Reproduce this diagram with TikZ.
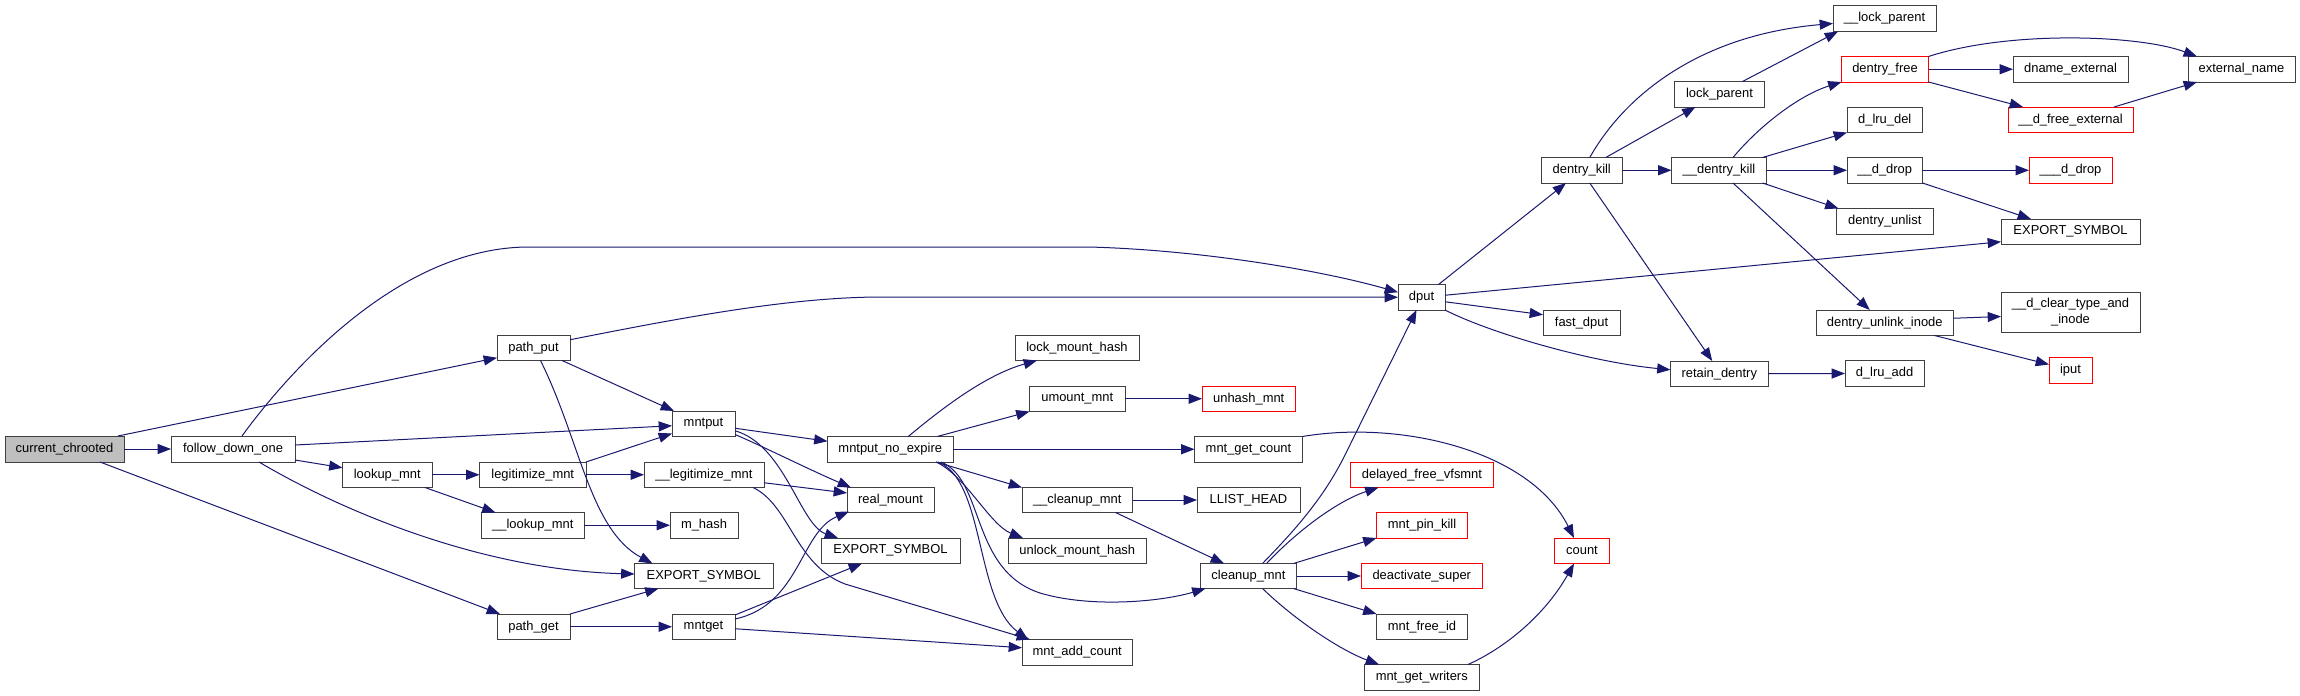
\documentclass[tikz,border=0pt]{standalone}
\usepackage{fontspec}
\setmainfont{Liberation Sans}
\usetikzlibrary{arrows.meta,calc}
\definecolor{edgec}{HTML}{191970}
\definecolor{bordc}{HTML}{404040}
\definecolor{rootc}{HTML}{BFBFBF}
\definecolor{redc}{HTML}{FF0000}
\newcommand\cgnode[7]{\node[fnbox,#1,minimum width={(#4-#2)*0.75pt},minimum height={(#5-#3)*0.75pt}] (#6) at ({(#2+#4)/2},{(#3+#5)/2}) {#7};}
\begin{document}
\begin{tikzpicture}[x=0.75pt,y=-0.75pt,
 fnbox/.style={draw=bordc,line width=0.75pt,inner sep=0pt,outer sep=0pt,font=\fontsize{9.7pt}{11.7pt}\selectfont,align=center,text=black},
 redbox/.style={draw=redc},
 rootbox/.style={fill=rootc},
 cedge/.style={draw=edgec,line width=0.75pt,-{Triangle[length=10pt,width=7.5pt]}}]
\fill[white] (0,0) rectangle (2300,696);
\useasboundingbox (0,0) rectangle (2300,696);
% nodes
\cgnode{rootbox}{5}{436}{124}{462}{cc}{current\_chrooted}
\cgnode{}{171}{436}{295}{462}{fdo}{follow\_down\_one}
\cgnode{}{342.5}{462}{432}{487.5}{lm}{lookup\_mnt}
\cgnode{}{479.5}{462}{586}{487.5}{legm}{legitimize\_mnt}
\cgnode{}{481.5}{512.5}{584}{538}{llm}{\_\_lookup\_mnt}
\cgnode{}{497}{614}{570}{639.5}{pget}{path\_get}
\cgnode{}{497}{335}{570}{360.5}{pput}{path\_put}
\cgnode{}{672}{411}{735}{436.5}{mntput}{mntput}
\cgnode{}{827.5}{436.5}{953}{462}{mne}{mntput\_no\_expire}
\cgnode{}{644}{462}{764}{487.5}{llegm}{\_\_legitimize\_mnt}
\cgnode{}{670}{512.5}{738}{538}{mhash}{m\_hash}
\cgnode{}{847}{487.5}{934}{512.5}{rm}{real\_mount}
\cgnode{}{821}{538}{960}{563.5}{es2}{EXPORT\_SYMBOL}
\cgnode{}{634.5}{563.5}{773}{588.5}{es1}{EXPORT\_SYMBOL}
\cgnode{}{672}{614}{735}{639.5}{mntget}{mntget}
\cgnode{}{1022}{639.5}{1132.5}{665}{mac}{mnt\_add\_count}
\cgnode{}{1015}{335}{1139}{360.5}{lmh}{lock\_mount\_hash}
\cgnode{}{1029.5}{386}{1125}{411.5}{um}{umount\_mnt}
\cgnode{}{1022}{487.5}{1132.5}{512.5}{cum}{\_\_cleanup\_mnt}
\cgnode{}{1008}{538}{1146.5}{563.5}{ulmh}{unlock\_mount\_hash}
\cgnode{redbox}{1202}{386}{1295.5}{411.5}{uhm}{unhash\_mnt}
\cgnode{}{1194.5}{436.5}{1302.5}{462}{mgc}{mnt\_get\_count}
\cgnode{}{1197}{487.5}{1300}{512.5}{llh}{LLIST\_HEAD}
\cgnode{}{1200.5}{563.5}{1296.5}{588.5}{clm}{cleanup\_mnt}
\cgnode{redbox}{1350.5}{462}{1493.5}{487.5}{dfv}{delayed\_free\_vfsmnt}
\cgnode{redbox}{1376.5}{512.5}{1467.5}{538}{mpk}{mnt\_pin\_kill}
\cgnode{redbox}{1361}{563.5}{1482.5}{588.5}{ds}{deactivate\_super}
\cgnode{}{1376.5}{614}{1467.5}{639.5}{mfi}{mnt\_free\_id}
\cgnode{}{1364.5}{664.5}{1479}{690}{mgw}{mnt\_get\_writers}
\cgnode{redbox}{1554.5}{538}{1609.5}{563.5}{cnt}{count}
\cgnode{}{1670.5}{361}{1768}{386.5}{rd}{retain\_dentry}
\cgnode{}{1398}{284.5}{1445}{310}{dput}{dput}
\cgnode{}{1543}{310}{1620}{335.5}{fdput}{fast\_dput}
\cgnode{}{1541}{157.5}{1622.5}{183}{dk}{dentry\_kill}
\cgnode{}{1674.5}{81.5}{1764.5}{107}{lp}{lock\_parent}
\cgnode{}{1671.5}{157.5}{1766.5}{183}{dkk}{\_\_dentry\_kill}
\cgnode{}{1833}{5.5}{1936}{31.5}{llp}{\_\_lock\_parent}
\cgnode{redbox}{1841.5}{56.5}{1928.5}{82}{dfree}{dentry\_free}
\cgnode{}{2013}{56.5}{2128}{82}{dne}{dname\_external}
\cgnode{}{2188}{56.5}{2295}{82}{en}{external\_name}
\cgnode{redbox}{2008}{107}{2133}{132.5}{dfe}{\_\_d\_free\_external}
\cgnode{}{1847}{107}{1922.5}{132.5}{dld}{d\_lru\_del}
\cgnode{}{1847}{157.5}{1922.5}{183}{ddrop}{\_\_d\_drop}
\cgnode{redbox}{2029}{157.5}{2112}{183}{dddrop}{\_\_\_d\_drop}
\cgnode{}{1836.5}{208.5}{1933}{234}{dul}{dentry\_unlist}
\cgnode{}{2001}{219}{2140}{244.5}{es3}{EXPORT\_SYMBOL}
\cgnode{}{1816}{310}{1953.5}{335.5}{dui}{dentry\_unlink\_inode}
\cgnode{}{2001}{292}{2140}{332}{dct}{\_\_d\_clear\_type\_and\\\_inode}
\cgnode{}{1845}{360.5}{1924}{386.5}{dla}{d\_lru\_add}
\cgnode{redbox}{2049}{357.5}{2092}{383.5}{iput}{iput}
% edges
\draw[cedge] (cc.east) -- (fdo.west);
\draw[cedge] ($(cc.north east)+(-6,0)$) -- ($(pput.west)+(0,10)$);
\draw[cedge] ($(cc.south east)+(-24,0)$) -- ($(pget.north west)+(3,0)$);
\draw[cedge] ($(fdo.north)+(9,0)$) .. controls (290,370) and (400,247) .. (529,247) -- (1089,247) .. controls (1200,250) and (1320,270) .. ($(dput.west)+(0,-5)$);
\draw[cedge] ($(fdo.east)+(0,-4)$) -- ($(mntput.west)+(0,2)$);
\draw[cedge] ($(fdo.south east)+(0,-2)$) -- ($(lm.west)+(0,-7)$);
\draw[cedge] ($(fdo.south)+(26,0)$) .. controls (340,510) and (480,570) .. ($(es1.west)+(0,-2)$);
\draw[cedge] (lm.east) -- (legm.west);
\draw[cedge] ($(lm.south east)+(-7,0)$) -- ($(llm.north west)+(14,0)$);
\draw[cedge] ($(pput.east)+(0,-8)$) .. controls (680,318) and (790,297) .. (882,297) -- (dput.west);
\draw[cedge] ($(pput.south east)+(-8,0)$) -- ($(mntput.north west)+(2,0)$);
\draw[cedge] ($(pput.south)+(7,0)$) .. controls (580,440) and (590,530) .. ($(es1.north west)+(18,0)$);
\draw[cedge] (legm.north east) -- ($(mntput.south west)+(0,-3)$);
\draw[cedge] (legm.east) -- (llegm.west);
\draw[cedge] (llm.east) -- (mhash.west);
\draw[cedge] (pget.north east) -- ($(es1.south west)+(24,0)$);
\draw[cedge] (pget.east) -- (mntget.west);
\draw[cedge] ($(mntput.east)+(0,4.5)$) -- ($(mne.west)+(0,-8)$);
\draw[cedge] ($(mntput.south east)+(0,-2)$) .. controls (760,445) and (810,470) .. ($(rm.north west)+(4,0)$);
\draw[cedge] ($(mntput.east)+(0,7)$) .. controls (785,445) and (800,525) .. ($(es2.north west)+(17,0)$);
\draw[cedge] ($(llegm.east)+(0,8)$) -- ($(rm.west)+(0,-7)$);
\draw[cedge] ($(llegm.south east)+(-11,0)$) .. controls (790,505) and (795,565) .. (845,584) -- ($(mac.north west)+(8,0)$);
\draw[cedge] ($(mntget.north east)+(0,5)$) .. controls (800,605) and (800,532) .. ($(rm.south west)+(2,-1)$);
\draw[cedge] ($(mntget.north east)+(0,1)$) -- ($(es2.south west)+(41,0)$);
\draw[cedge] ($(mntget.east)+(0,2)$) -- ($(mac.west)+(0,-4.5)$);
\draw[cedge] ($(mne.north)+(18,0)$) .. controls (940,410) and (985,375) .. ($(lmh.south west)+(22,0)$);
\draw[cedge] ($(mne.north)+(47,0)$) -- (um.south west);
\draw[cedge] (mne.east) -- (mgc.west);
\draw[cedge] ($(mne.south east)+(-17,0)$) -- (cum.north west);
\draw[cedge] ($(mne.south east)+(-17,0)$) .. controls (965,475) and (990,525) .. ($(ulmh.north west)+(15,0)$);
\draw[cedge] ($(mne.south east)+(-12,0)$) .. controls (985,480) and (970,570) .. (1040,593) .. controls (1090,608) and (1160,602) .. ($(clm.south west)+(5,0)$);
\draw[cedge] ($(mne.south east)+(-15,0)$) .. controls (985,480) and (975,600) .. ($(mac.north west)+(6,0)$);
\draw[cedge] (um.east) -- (uhm.west);
\draw[cedge] (cum.east) -- (llh.west);
\draw[cedge] ($(cum.south east)+(-17,0)$) -- ($(clm.north west)+(23.5,0)$);
\draw[cedge] (mgc.north east) .. controls (1400,420) and (1530,450) .. ($(cnt.north)+(-8,0)$);
\draw[cedge] ($(clm.north)+(14,0)$) .. controls (1300,525) and (1325,495) .. (1345,455) -- ($(dput.south)+(-5,0)$);
\draw[cedge] ($(clm.north)+(18,0)$) .. controls (1300,528) and (1340,500) .. ($(dfv.south west)+(28,0)$);
\draw[cedge] ($(clm.north east)+(-3,0)$) -- (mpk.south west);
\draw[cedge] (clm.east) -- (ds.west);
\draw[cedge] ($(clm.south east)+(-3,0)$) -- (mfi.north west);
\draw[cedge] ($(clm.south)+(14,0)$) .. controls (1295,620) and (1340,650) .. ($(mgw.north west)+(14.5,0)$);
\draw[cedge] ($(mgw.north east)+(-11,0)$) .. controls (1505,648) and (1545,615) .. ($(cnt.south)+(-8,0)$);
\draw[cedge] ($(dput.north east)+(-6.5,0)$) -- ($(dk.south west)+(25,0)$);
\draw[cedge] ($(dput.east)+(0,-2)$) -- ($(es3.west)+(0,10)$);
\draw[cedge] ($(dput.east)+(0,4.5)$) -- ($(fdput.west)+(0,-8)$);
\draw[cedge] (dput.south east) .. controls (1490,333) and (1590,362) .. ($(rd.west)+(0,-4)$);
\draw[cedge] ($(dk.north)+(8,0)$) .. controls (1625,95) and (1700,35) .. ($(llp.west)+(0,5)$);
\draw[cedge] ($(dk.north)+(24,0)$) -- ($(lp.south west)+(21,0)$);
\draw[cedge] (dk.east) -- (dkk.west);
\draw[cedge] ($(dk.south)+(8,0)$) -- ($(rd.north)+(-7,0)$);
\draw[cedge] ($(lp.north east)+(-22,0)$) -- ($(llp.south west)+(5,0)$);
\draw[cedge] ($(dkk.north)+(14,0)$) .. controls (1760,125) and (1800,95) .. (dfree.south west);
\draw[cedge] ($(dkk.north east)+(-4,0)$) -- (dld.south west);
\draw[cedge] (dkk.east) -- (ddrop.west);
\draw[cedge] ($(dkk.south east)+(-4,0)$) -- ($(dul.north west)+(2,0)$);
\draw[cedge] ($(dkk.south)+(14,0)$) -- ($(dui.north)+(-15,0)$);
\draw[cedge] (dfree.east) -- (dne.west);
\draw[cedge] (dfree.north east) .. controls (2010,30) and (2140,35) .. ($(en.north west)+(9,0)$);
\draw[cedge] (dfree.south east) -- ($(dfe.north west)+(15,0)$);
\draw[cedge] ($(dfe.north east)+(-19,0)$) -- ($(en.south west)+(9,0)$);
\draw[cedge] (ddrop.east) -- (dddrop.west);
\draw[cedge] (ddrop.south east) -- ($(es3.north west)+(30,0)$);
\draw[cedge] ($(dui.east)+(0,-4.5)$) -- ($(dct.west)+(0,4.5)$);
\draw[cedge] ($(dui.south east)+(-19,0)$) -- ($(iput.west)+(0,-6)$);
\draw[cedge] (rd.east) -- (dla.west);
\end{tikzpicture}
\end{document}
